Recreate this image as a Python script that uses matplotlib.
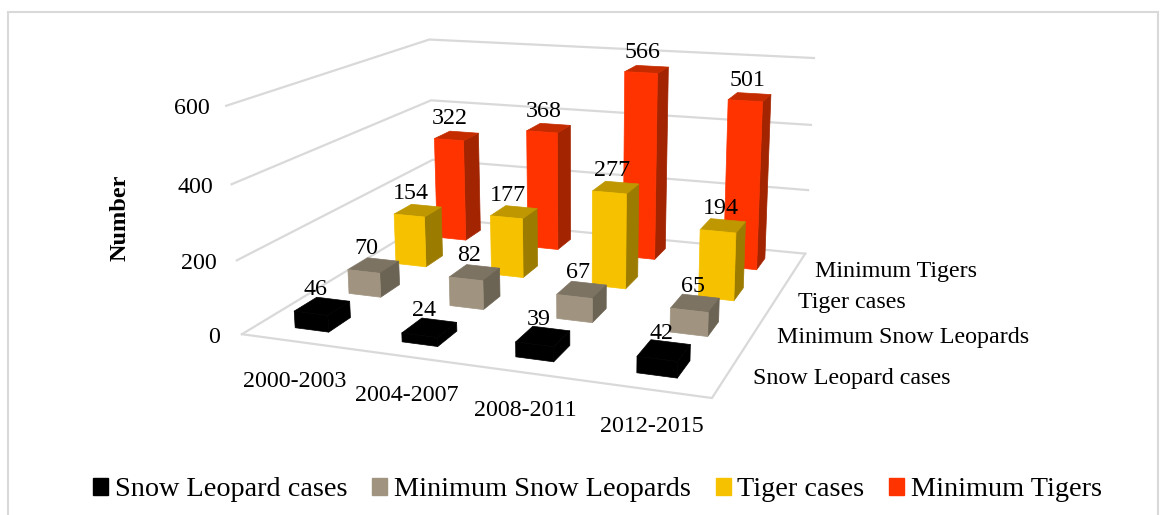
import numpy as np
import matplotlib
matplotlib.use("Agg")
import matplotlib.pyplot as plt
from matplotlib.patches import Rectangle

periods = ["2000-2003", "2004-2007", "2008-2011", "2012-2015"]
series = ["Snow Leopard cases", "Minimum Snow Leopards", "Tiger cases", "Minimum Tigers"]
snow_cases = [46, 24, 39, 42]
min_snow = [70, 82, 67, 65]
tiger_cases = [154, 177, 277, 194]
min_tigers = [322, 368, 566, 501]
values = [snow_cases, min_snow, tiger_cases, min_tigers]
z_ticks = [0, 200, 400, 600]

# front, top, side shades for each series
front = ["#000000", "#A09480", "#F6C200", "#FF3300"]
top = ["#000000", "#7D7362", "#BF9700", "#C42C00"]
side = ["#000000", "#6B6354", "#9C7C00", "#A32400"]
hidden = (0, 0, 0, 0)

W, H = 1167, 515
plt.rcParams["font.family"] = ["Liberation Serif", "DejaVu Serif"]
fig = plt.figure(figsize=(W / 100, H / 100), dpi=100)
ax = fig.add_axes([0, 0, 1, 1], projection="3d")
ax.set_axis_off()
ax.computed_zorder = False
ax.apply_aspect = lambda position=None: None

# camera: homography from (period, series, value) to image pixels
world = np.array([[0, 0, 0], [4, 0, 0], [4, 4, 0], [0, 4, 0],
                  [0, 0, 600], [0, 4, 600], [4, 4, 600]], float)
image = np.array([[241, 335], [711, 399], [805, 252], [436, 218],
                  [228, 104], [427, 40], [815, 59]], float)
rows = []
for (x, y, z), (u, v) in zip(world, image):
    rows.append([x, y, z, 1, 0, 0, 0, 0, -u * x, -u * y, -u * z, -u])
    rows.append([0, 0, 0, 0, x, y, z, 1, -v * x, -v * y, -v * z, -v])
P = np.linalg.svd(np.array(rows))[2][-1].reshape(3, 4)
P = P / P[2][3]


def get_proj():
    inv = ax.transData.inverted()
    o = inv.transform((0, H))
    e = inv.transform((1, H - 1))
    a, c = e[0] - o[0], o[0]
    b, d = e[1] - o[1], o[1]
    return np.array([a * P[0] + c * P[2],
                     b * P[1] + d * P[2],
                     [0, 1, 0, -10],
                     P[2]])


ax.get_proj = get_proj


def label(x, y, z, dx, dy, s, **kw):
    """Text at a chart position, moved by (dx, dy) image pixels."""
    u, v, w = P @ np.array([x, y, z, 1.0])
    fig.text((u / w + dx) / W, 1 - (v / w + dy) / H, s, fontsize=17.3, **kw)


# gridlines
grid = "#D9D9D9"
for v in z_ticks:
    ax.plot([0, 0, 4], [0, 4, 4], [v, v, v], color=grid, lw=1.6, zorder=1)
    label(0, 0, v, -22 + v / 100, 3, str(v), ha="right", va="center")
ax.plot([0, 4, 4], [0, 0, 4], [0, 0, 0], color=grid, lw=1.6, zorder=1)

# bars, back row first
bw, bd = 0.32, 0.40
for s in reversed(range(4)):
    for p in range(4):
        val = values[s][p]
        x0, y0 = p + 0.5 - bw / 2, s + 0.5 - bd / 2
        faces = [hidden, top[s], front[s], hidden, hidden, side[s]]
        ax.bar3d(x0, y0, 0, bw, bd, val, shade=False, color=faces,
                 edgecolor=faces, linewidth=0.5, zorder=10 + (3 - s) * 5)
        label(p + 0.5, s + 0.5, val, -7 + 1.5 * p, -17, str(val), ha="center", va="center")

# category and series labels on the floor
for p, name in enumerate(periods):
    label(p + 0.5, 0, 0, 0 + 2 * p, 40 - p, name, ha="center", va="center")
for s, name in enumerate(series):
    label(4, s + 0.5, 0, 26 - 2.3 * s, 4, name, ha="left", va="center")

fig.text(120 / W, 1 - 218 / H, "Number", rotation=90, ha="center", va="center",
         fontsize=17.5, fontweight="bold")

handles = [Rectangle((0, 0), 1, 1, color=c) for c in front]
fig.legend(handles, series, loc="center", bbox_to_anchor=(597.5 / W, 1 - 490 / H), ncol=4,
           frameon=False, fontsize=20.3, handlelength=0.53, handleheight=0.55,
           handletextpad=0.22, columnspacing=0.9)

fig.add_artist(Rectangle((8 / W, -0.05), 1150 / W, 1.05 - 12 / H, transform=fig.transFigure,
                         fill=False, edgecolor="#D9D9D9", lw=1.5))
fig.savefig("out.png", dpi=100)
